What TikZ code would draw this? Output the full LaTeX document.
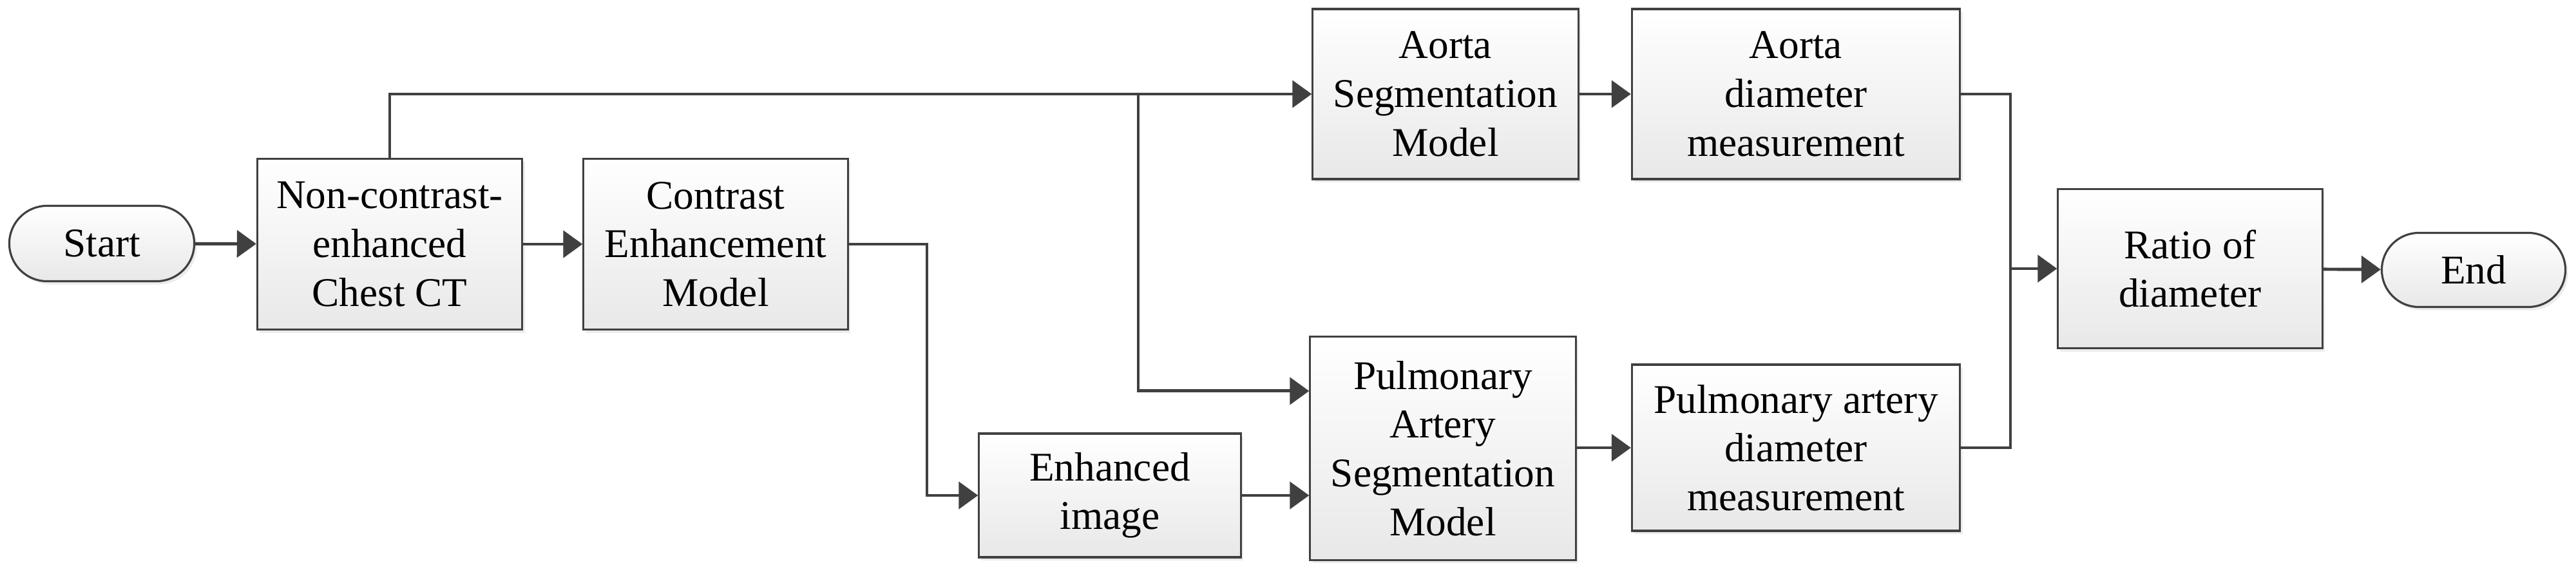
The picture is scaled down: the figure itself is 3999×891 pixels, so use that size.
\documentclass[tikz,border=0pt]{standalone}
\usepackage{fontspec}
\setmainfont{Liberation Serif}
\usetikzlibrary{shapes.misc,arrows.meta,shadows}
\definecolor{ln}{HTML}{404040}
\begin{document}
\begin{tikzpicture}[x=0.01cm,y=-0.01cm,
  box/.style={draw=ln,line width=0.9pt,top color=white,bottom color=black!9,
    align=center,inner sep=0pt,font=\fontsize{18}{21.5}\selectfont,
    drop shadow={shadow xshift=0.04cm,shadow yshift=-0.05cm,opacity=0.15}},
  term/.style={box,rounded rectangle},
  con/.style={draw=ln,line width=1.4pt},
  arr/.style={con,-{Triangle[length=0.3cm,width=0.42cm]}}]
\useasboundingbox (0,0) rectangle (3999,891);
\node[term,minimum width=2.87cm,minimum height=1.17cm] (start) at (158,378) {Start};
\node[box,minimum width=4.11cm,minimum height=2.65cm] (nc) at (605,379) {Non-contrast-\\enhanced\\Chest CT};
\node[box,minimum width=4.10cm,minimum height=2.65cm] (ce) at (1111,379) {Contrast\\Enhancement\\Model};
\node[box,minimum width=4.06cm,minimum height=1.92cm] (ei) at (1723,769) {Enhanced\\image};
\node[box,minimum width=4.12cm,minimum height=2.64cm] (as) at (2244,146) {Aorta\\Segmentation\\Model};
\node[box,minimum width=5.09cm,minimum height=2.64cm] (ad) at (2788,146) {Aorta\\diameter\\measurement};
\node[box,minimum width=4.12cm,minimum height=3.46cm] (ps) at (2240,696) {Pulmonary\\Artery\\Segmentation\\Model};
\node[box,minimum width=5.09cm,minimum height=2.58cm] (pd) at (2788,695) {Pulmonary artery\\diameter\\measurement};
\node[box,minimum width=4.10cm,minimum height=2.47cm] (ra) at (3400,417) {Ratio of\\diameter};
\node[term,minimum width=2.85cm,minimum height=1.15cm] (end) at (3840,419) {End};
\coordinate (j1) at (1767,146);
\coordinate (j2) at (1439,379);
\coordinate (m) at (3121,417);
\draw[arr] (start) -- (nc);
\draw[arr] (nc) -- (ce);
\draw[arr] (nc.north) |- (as.west);
\draw[arr] (j1) |- ([yshift=0.89cm]ps.west);
\draw[arr] (ce.east) -- (j2) |- (ei.west);
\draw[arr] (ei.east) -- (ei.east -| ps.west);
\draw[arr] (as) -- (ad);
\draw[arr] (ps.east |- pd.west) -- (pd.west);
\draw[con] (ad.east) -| (m);
\draw[con] (pd.east) -| (m);
\draw[arr] (m) -- (ra.west);
\draw[arr] (ra) -- (end);
\end{tikzpicture}
\end{document}
